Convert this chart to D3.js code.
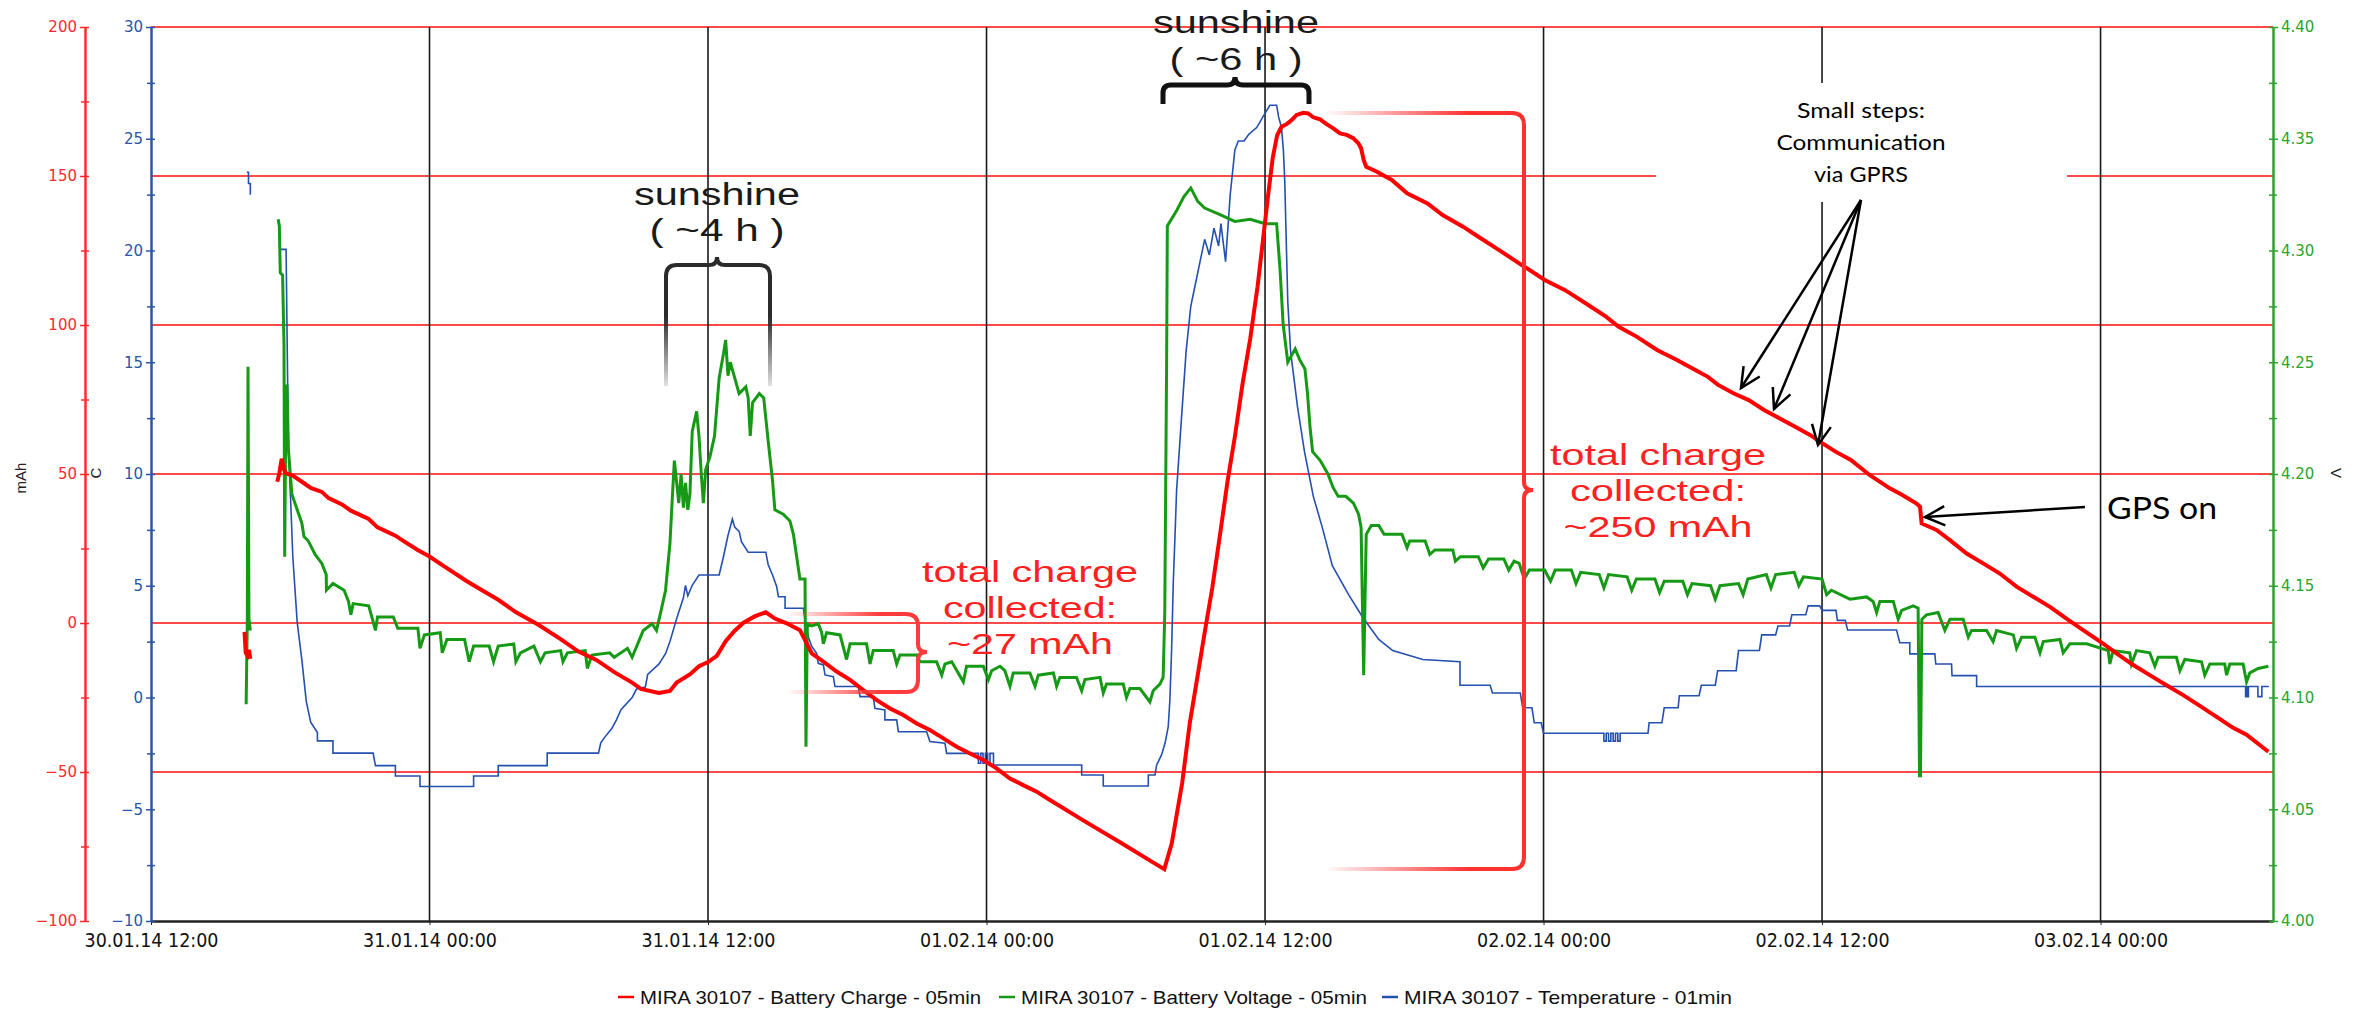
<!DOCTYPE html>
<html>
<head>
<meta charset="utf-8">
<script src="https://d3js.org/d3.v7.min.js"></script>
<style>
  body { margin: 0; background: #fff; }
  text { font-family: "Liberation Sans", Arial, sans-serif; }
  .narrow { font-family: "Liberation Sans Narrow", "Arial Narrow", "DejaVu Sans Condensed", "Liberation Sans", sans-serif; }
  .tick-lab { font-family: "DejaVu Sans", Verdana, sans-serif; }
  .calib { font-family: Lato, "Open Sans", sans-serif; }
</style>
</head>
<body>
<script>
"use strict";

// hours after 30.01.14 12:00, value ; null = gap in the record
var chargeData = [
  [4.03,-3],[4.08,-10],[4.15,-11],[4.22,-9],[4.28,-12], null,
  [5.44,47.4],[5.53,50.2],[5.63,55.1],[5.73,51.6],[5.82,50.2],[6.11,49.5],[6.50,47.4],[6.88,45.3],
  [7.36,44.0],[7.65,41.9],[8.23,39.8],[8.61,37.7],[9.38,34.9],[9.76,32.1],[10.53,29.3],[10.92,27.3],
  [11.49,24.5],[11.98,22.4],[12.65,18.9],[13.61,14.0],[14.19,11.3],[14.96,7.8],[15.73,3.6],[16.69,-0.6],
  [17.65,-5.4],[18.42,-9.6],[19.19,-12.4],[19.96,-16.5],[20.73,-20.0],[21.11,-22.1],[21.88,-23.5],
  [22.36,-22.8],[22.65,-20.0],[23.23,-17.2],[23.61,-14.5],[24.0,-13.1],[24.38,-11.0],[24.76,-6.1],
  [25.15,-2.6],[25.53,0.1],[26.01,2.2],[26.49,3.6],[26.88,1.5],[27.39,-0.1],[27.96,-2.4],[28.25,-6.8],
  [28.47,-10.2],[28.97,-13.0],[29.54,-16.3],[30.12,-19.1],[30.69,-22.5],[31.27,-25.9],[31.84,-28.7],
  [32.41,-30.9],[32.99,-33.7],[33.56,-35.9],[34.14,-38.7],[34.71,-41.5],[35.29,-43.8],[35.86,-46.0],
  [36.43,-48.8],[37.01,-52.2],[37.58,-54.4],[38.16,-56.6],[38.73,-59.4],[40.2,-66.4],[41.84,-74],
  [43.1,-80],[43.66,-82.6],[43.98,-74],[44.43,-53.7],[44.76,-33.5],[45.08,-18.4],[45.4,-3.2],
  [45.73,11.9],[46.06,29.6],[46.38,47.3],[46.7,62.5],[47.03,80.2],[47.36,95.3],[47.68,113],
  [47.87,125.7],[48.13,143.4],[48.33,156],[48.52,163.6],[48.71,166.5],[48.93,167.4],[49.15,168.8],
  [49.36,170.5],[49.65,171.2],[49.86,171.0],[50.08,169.7],[50.37,169.0],[50.65,167.4],[50.94,166.0],
  [51.23,164.3],[51.52,163.8],[51.80,162.7],[52.02,161.0],[52.14,159.3],[52.25,155.4],[52.36,153.1],
  [52.80,151.5],[53.46,148.7],[54.12,144.2],[55.0,140.8],[55.65,136.9],[56.53,133.0],[57.19,129.6],
  [58.07,125.2],[58.95,120.7],[60.05,115.1],[60.93,111.7],[61.81,107.3],[62.69,102.8],[63.24,99.4],
  [64.01,96.1],[64.89,91.6],[65.77,88.2],[66.42,85.4],[67.08,82.6],[67.52,79.9],[68.18,77.1],
  [68.84,74.8],[69.50,71.5],[70.16,68.7],[70.82,65.9],[71.48,63.1],[71.92,60.8],[72.58,57.5],
  [73.24,54.7],[74.06,49.6],[74.92,45.2],[75.44,43.0],[76.07,40.1],[76.22,39.0],[76.29,33.4],
  [76.93,31.2],[77.51,27.8],[78.23,23.3],[78.94,20.0],[79.66,16.6],[80.38,12.2],[81.10,8.8],
  [81.82,5.4],[82.53,1.5],[83.25,-2.4],[84.11,-6.9],[84.69,-10.2],[85.41,-14.1],[86.12,-17.5],
  [86.84,-20.9],[87.56,-24.2],[88.28,-27.8],[89.0,-31.5],[89.71,-35.2],[90.29,-37.5],[91.23,-43.2]
];

var voltageData = [
  [4.10,4.097],[4.15,4.135],[4.18,4.248],[4.22,4.135],[4.28,4.13], null,
  [5.48,4.314],[5.53,4.311],[5.57,4.290],[5.67,4.289],[5.73,4.258],[5.76,4.163],[5.80,4.215],[5.86,4.24],
  [5.92,4.211],[6.07,4.191],[6.30,4.184],[6.50,4.178],[6.59,4.172],[6.78,4.170],[7.07,4.164],[7.36,4.160],
  [7.55,4.155],[7.56,4.148],[7.84,4.151],[8.32,4.148],[8.51,4.143],[8.61,4.137],[8.71,4.142],[9.38,4.141],
  [9.57,4.134],[9.67,4.130],[9.76,4.136],[10.44,4.136],[10.63,4.131],[11.50,4.131],[11.59,4.122],
  [11.78,4.128],[12.46,4.129],[12.55,4.120],[12.75,4.126],[13.51,4.126],[13.71,4.116],[13.90,4.123],
  [14.57,4.123],[14.76,4.116],[14.96,4.123],[15.63,4.124],[15.72,4.116],[15.92,4.120],[16.5,4.123],
  [16.78,4.116],[16.98,4.120],[17.65,4.121],[17.75,4.116],[17.94,4.120],[18.71,4.121],[18.80,4.113],
  [19.0,4.119],[19.76,4.120],[19.96,4.118],[20.53,4.122],[20.73,4.118],[21.01,4.125],[21.21,4.130],
  [21.59,4.133],[21.78,4.130],[21.98,4.139],[22.17,4.148],[22.36,4.169],[22.46,4.189],[22.55,4.206],
  [22.65,4.196],[22.74,4.187],[22.84,4.200],[22.94,4.185],[23.03,4.196],[23.13,4.184],[23.22,4.191],
  [23.32,4.219],[23.51,4.228],[23.61,4.217],[23.71,4.200],[23.80,4.187],[23.90,4.202],[24.09,4.208],
  [24.28,4.217],[24.48,4.243],[24.67,4.254],[24.76,4.260],[24.86,4.244],[24.96,4.250],[25.15,4.243],
  [25.34,4.236],[25.63,4.239],[25.73,4.234],[25.82,4.217],[25.92,4.232],[26.21,4.236],[26.40,4.234],
  [26.59,4.215],[26.78,4.197],[26.88,4.184],[27.24,4.182],[27.53,4.179],[27.68,4.173],[27.82,4.163],
  [27.96,4.153],[28.18,4.153],[28.22,4.078],[28.28,4.133],[28.47,4.132],[28.75,4.133],[28.90,4.129],
  [28.97,4.124],[29.11,4.129],[29.69,4.128],[29.97,4.117],[30.12,4.124],[30.83,4.124],[30.98,4.115],
  [31.12,4.121],[31.98,4.121],[32.13,4.115],[32.27,4.119],[32.99,4.119],[33.13,4.116],[33.85,4.116],
  [34.07,4.110],[34.21,4.115],[34.50,4.116],[35.0,4.107],[35.14,4.114],[35.86,4.114],[36.08,4.108],
  [36.22,4.112],[36.58,4.114],[36.79,4.112],[37.01,4.105],[37.15,4.111],[37.87,4.111],[38.09,4.105],
  [38.23,4.110],[38.88,4.111],[39.02,4.105],[39.16,4.109],[39.88,4.109],[40.10,4.103],[40.24,4.108],
  [40.89,4.109],[41.03,4.102],[41.17,4.106],[41.89,4.106],[42.03,4.100],[42.18,4.104],[42.61,4.104],
  [43.04,4.098],[43.18,4.103],[43.47,4.106],[43.61,4.109],[43.68,4.138],[43.76,4.25],[43.79,4.311],
  [44.2,4.318],[44.5,4.324],[44.8,4.328],[45.1,4.322],[45.4,4.319],[46.06,4.316],[46.7,4.313],
  [47.36,4.314],[48.0,4.312],[48.5,4.312],[48.65,4.291],[48.78,4.267],[48.98,4.250],[49.3,4.256],
  [49.5,4.251],[49.72,4.247],[49.83,4.236],[49.94,4.221],[50.05,4.210],[50.38,4.206],[50.71,4.200],
  [50.93,4.194],[51.15,4.190],[51.48,4.190],[51.81,4.187],[52.03,4.182],[52.14,4.176],[52.25,4.110],
  [52.36,4.173],[52.58,4.177],[52.90,4.177],[53.13,4.173],[53.90,4.173],[54.12,4.167],[54.23,4.170],
  [54.9,4.170],[55.10,4.164],[55.32,4.166],[56.09,4.166],[56.2,4.161],[56.42,4.163],[57.19,4.163],
  [57.4,4.158],[57.63,4.162],[58.29,4.162],[58.5,4.157],[58.73,4.161],[58.95,4.160],[59.17,4.153],
  [59.39,4.157],[60.05,4.157],[60.3,4.152],[60.5,4.157],[61.2,4.157],[61.4,4.151],[61.6,4.156],
  [62.4,4.155],[62.6,4.149],[62.8,4.155],[63.6,4.154],[63.8,4.148],[64.0,4.153],[64.8,4.153],
  [65.0,4.147],[65.2,4.152],[66.0,4.152],[66.2,4.146],[66.4,4.151],[67.2,4.150],[67.4,4.144],
  [67.6,4.150],[68.4,4.151],[68.6,4.146],[68.8,4.153],[69.6,4.155],[69.8,4.149],[70.0,4.155],
  [70.8,4.156],[71.0,4.150],[71.2,4.154],[72.0,4.153],[72.2,4.146],[72.4,4.148],[73.2,4.144],
  [73.92,4.145],[74.2,4.143],[74.35,4.138],[74.49,4.143],[75.07,4.143],[75.28,4.135],[75.43,4.139],
  [75.93,4.141],[76.14,4.140],[76.2,4.065],[76.24,4.065],[76.3,4.135],[76.50,4.137],[77.0,4.138],
  [77.29,4.130],[77.51,4.135],[78.08,4.135],[78.30,4.127],[78.44,4.130],[79.09,4.130],[79.37,4.125],
  [79.52,4.130],[80.24,4.128],[80.38,4.122],[80.60,4.127],[81.17,4.127],[81.39,4.120],[81.53,4.125],
  [82.25,4.126],[82.39,4.120],[82.68,4.124],[83.40,4.124],[84.33,4.121],[84.40,4.115],[84.54,4.121],
  [85.26,4.120],[85.33,4.115],[85.55,4.121],[86.12,4.120],[86.34,4.114],[86.48,4.118],[87.27,4.118],
  [87.42,4.112],[87.63,4.117],[88.35,4.116],[88.49,4.110],[88.71,4.115],[89.35,4.115],[89.43,4.110],
  [89.57,4.115],[90.14,4.115],[90.29,4.107],[90.43,4.111],[90.79,4.113],[91.23,4.114]
];

var temperatureData = [
  [4.13,23.5],[4.2,23.5],[4.2,23.0],[4.28,23.0],[4.28,22.5], null,
  [5.53,20.05],[5.82,20.05],[5.92,11.2],[6.01,9.0],[6.11,6.3],[6.30,3.35],[6.50,1.68],[6.69,-0.17],
  [6.88,-1.10],[7.17,-1.57],[7.17,-1.94],[7.84,-1.94],[7.84,-2.49],[9.57,-2.49],[9.67,-3.05],
  [10.53,-3.05],[10.53,-3.51],[11.59,-3.51],[11.59,-3.98],[13.90,-3.98],[13.90,-3.51],[14.96,-3.51],
  [14.96,-3.05],[17.07,-3.05],[17.07,-2.49],[19.28,-2.49],[19.38,-2.03],[19.57,-1.75],[19.86,-1.38],
  [20.05,-1.01],[20.25,-0.55],[20.73,0.0],[20.92,0.38],[21.30,0.47],[21.40,1.03],[21.88,1.49],
  [22.17,1.96],[22.36,2.51],[22.65,3.53],[22.94,4.46],[23.03,5.02],[23.13,4.55],[23.32,5.02],
  [23.61,5.48],[24.48,5.48],[24.67,6.32],[24.86,7.25],[25.05,7.99],[25.15,7.62],[25.34,7.43],
  [25.44,6.97],[25.73,6.50],[26.49,6.50],[26.59,5.95],[26.78,5.48],[26.96,4.96],[27.03,4.51],
  [27.32,4.51],[27.32,3.99],[28.11,3.99],[28.18,3.47],[28.32,2.72],[28.47,2.28],[28.68,1.98],
  [28.75,1.53],[28.97,1.46],[29.04,1.01],[29.40,0.93],[29.47,0.49],[30.48,0.49],[30.55,0.04],
  [31.12,0.04],[31.19,-0.48],[31.62,-0.56],[31.62,-1.0],[32.13,-1.0],[32.20,-1.53],[33.42,-1.53],
  [33.56,-1.97],[34.21,-2.05],[34.28,-2.50],[35.65,-2.50],[35.65,-2.94],[35.75,-2.94],[35.75,-2.5],
  [35.85,-2.5],[35.85,-2.94],[35.95,-2.94],[35.95,-2.5],[36.05,-2.5],[36.05,-2.94],[36.15,-2.94],
  [36.15,-2.5],[36.3,-2.5],[36.3,-3.02],[40.10,-3.02],[40.10,-3.47],[41.03,-3.47],
  [41.03,-3.96],[42.97,-3.96],[42.97,-3.47],[43.26,-3.47],[43.33,-3.02],[43.54,-2.57],[43.69,-2.05],
  [43.83,-1.30],[43.90,-0.11],[43.97,1.98],[44.05,5.26],[44.12,7.20],[44.19,9.28],[44.4,12.5],
  [44.6,15.5],[44.8,17.5],[45.0,18.5],[45.2,19.5],[45.4,20.5],[45.6,19.8],[45.8,21.0],[46.0,20.2],
  [46.1,21.2],[46.3,19.5],[46.5,22.5],[46.7,24.5],[46.85,24.9],[47.1,24.9],[47.3,25.2],[47.64,25.5],
  [47.92,26.0],[48.21,26.5],[48.5,26.5],[48.58,26.0],[48.71,25.5],[48.79,24.5],[48.85,23.1],
  [48.98,17.7],[49.1,15.5],[49.4,13.0],[49.7,11.0],[50.08,9.0],[50.47,7.6],[50.9,5.9],[51.6,4.6],
  [52.2,3.6],[52.9,2.6],[53.5,2.1],[54.8,1.7],[56.4,1.6],[56.4,0.55],[57.7,0.55],[57.8,0.2],
  [59.0,0.2],[59.1,-0.46],[59.5,-0.46],[59.6,-1.13],[59.9,-1.13],[60.0,-1.6],[62.6,-1.6],
  [62.6,-1.95],[62.7,-1.95],[62.7,-1.6],[62.8,-1.6],[62.8,-1.95],[62.9,-1.95],[62.9,-1.6],
  [63.0,-1.6],[63.0,-1.95],[63.1,-1.95],[63.1,-1.6],[63.2,-1.6],[63.2,-1.95],[63.3,-1.95],[63.3,-1.6],
  [64.5,-1.6],[64.55,-1.13],[65.1,-1.13],[65.2,-0.46],[65.8,-0.46],[65.85,0.08],[66.7,0.08],
  [66.8,0.55],[67.4,0.55],[67.5,1.2],[68.3,1.2],[68.4,2.1],[69.3,2.1],[69.4,2.8],[70.0,2.8],
  [70.1,3.2],[70.6,3.2],[70.7,3.7],[71.3,3.7],[71.4,4.1],[71.9,4.1],[72.0,3.9],[72.6,3.9],
  [72.66,3.45],[73.0,3.45],[73.1,3.02],[75.21,3.02],[75.35,2.45],[75.78,2.45],[75.78,1.95],
  [76.86,1.95],[76.9,1.50],[77.58,1.50],[77.6,0.98],[78.66,0.98],[78.66,0.49],[90.25,0.49],
  [90.25,0.04],[90.3,0.04],[90.3,0.49],[90.33,0.49],[90.33,0.04],[90.37,0.04],[90.37,0.49],
  [90.78,0.49],[90.78,0.04],[90.95,0.04],[90.95,0.49],[91.25,0.49]
];

var chargeTicks = [-100, -50, 0, 50, 100, 150, 200];
var tempTicks = [-10, -5, 0, 5, 10, 15, 20, 25, 30];
var voltTicks = [4.00, 4.05, 4.10, 4.15, 4.20, 4.25, 4.30, 4.35, 4.40];
var legendLabels = ["MIRA 30107 - Battery Charge - 05min",
                    "MIRA 30107 - Battery Voltage - 05min",
                    "MIRA 30107 - Temperature - 01min"];

var RED = "#ff0000", GREEN = "#169a16", BLUE = "#2450ae";

var W = 2361, H = 1016;
var xLeft = 151, xRight = 2273, yTop = 27, yBot = 921;

var t0 = new Date(2014, 0, 30, 12, 0);
function hrs(h) { return new Date(t0.getTime() + h * 3600e3); }

var x = d3.scaleTime().domain([t0, hrs(91.43)]).range([xLeft, xRight]);
var yC = d3.scaleLinear().domain([-100, 200]).range([yBot, yTop]);
var yT = d3.scaleLinear().domain([-10, 30]).range([yBot, yTop]);
var yV = d3.scaleLinear().domain([4.0, 4.4]).range([yBot, yTop]);

var svg = d3.select("body").append("svg")
  .attr("width", W).attr("height", H);

var defs = svg.append("defs");
function grad(id, x1, y1, x2, y2, color, stops) {
  var g = defs.append("linearGradient").attr("id", id)
    .attr("gradientUnits", "userSpaceOnUse")
    .attr("x1", x1).attr("y1", y1).attr("x2", x2).attr("y2", y2);
  stops.forEach(function(s) {
    g.append("stop").attr("offset", s[0]).attr("stop-color", color).attr("stop-opacity", s[1]);
  });
}
grad("fade27", 787, 0, 880, 0, "#ff3b3b", [[0, 0], [1, 1]]);
grad("fade250", 1325, 0, 1470, 0, "#ff3030", [[0, 0], [1, 1]]);
grad("fade4h", 0, 258, 0, 388, "#2b2b2b", [[0, 1], [0.45, 1], [1, 0.12]]);

// horizontal red grid (charge axis)
svg.append("g").selectAll("line").data(chargeTicks.filter(function(d) { return d > -100; }))
  .join("line")
  .attr("x1", xLeft).attr("x2", xRight)
  .attr("y1", function(d) { return yC(d); }).attr("y2", function(d) { return yC(d); })
  .attr("stroke", "#ff4a4a").attr("stroke-width", 2);

// vertical grid every 12h
var xTicks = d3.timeHour.every(12).range(t0, hrs(91.43));
svg.append("g").selectAll("line").data(xTicks.slice(1))
  .join("line")
  .attr("x1", function(d) { return x(d); }).attr("x2", function(d) { return x(d); })
  .attr("y1", yTop).attr("y2", yBot)
  .attr("stroke", "#1a1a1a").attr("stroke-width", 1.6);

// bottom axis
var xAxis = svg.append("g").attr("transform", "translate(0," + yBot + ")")
  .call(d3.axisBottom(x).tickValues(xTicks).tickSize(4).tickSizeOuter(0)
    .tickFormat(d3.timeFormat("%d.%m.%y %H:%M")));
xAxis.select(".domain").attr("stroke", "#222").attr("stroke-width", 2.5);
xAxis.selectAll("line").attr("stroke", "#222");
xAxis.selectAll("text").attr("class", "narrow").attr("font-size", 19).attr("fill", "#111")
  .attr("dy", "1.0em").attr("textLength", 134).attr("lengthAdjust", "spacingAndGlyphs");

// y axes with minor ticks crossing the axis line
function yAxis(scale, ticks, xpos, color, side, fmt) {
  var g = svg.append("g").attr("transform", "translate(" + xpos + ",0)");
  var minor = [];
  for (var i = 0; i < ticks.length - 1; i++) minor.push((ticks[i] + ticks[i + 1]) / 2);
  var ax = side === "left" ? d3.axisLeft(scale) : d3.axisRight(scale);
  g.call(ax.tickValues(ticks).tickSize(5).tickSizeOuter(0).tickFormat(fmt));
  g.append("g").call((side === "left" ? d3.axisRight(scale) : d3.axisLeft(scale))
    .tickValues(ticks.concat(minor)).tickSize(4).tickFormat(""))
    .select(".domain").remove();
  g.append("g").call(ax.tickValues(minor).tickSize(4).tickFormat(""))
    .select(".domain").remove();
  g.selectAll(".domain").attr("stroke", color).attr("stroke-width", 2.5);
  g.selectAll("line").attr("stroke", color).attr("stroke-width", 1.5);
  g.selectAll("text").attr("class", "tick-lab").attr("fill", color).attr("font-size", 15);
  return g;
}
yAxis(yC, chargeTicks, 85, "#ff2b2b", "left", d3.format("d"));
yAxis(yT, tempTicks, xLeft, "#2a55a8", "left", d3.format("d"));
yAxis(yV, voltTicks, xRight, "#2aa52a", "right", d3.format(".2f"));

// axis unit labels
svg.append("text").attr("transform", "translate(26,478) rotate(-90)")
  .attr("text-anchor", "middle").attr("font-size", 15).attr("fill", "#222").text("mAh");
svg.append("text").attr("transform", "translate(101,473) rotate(-90)")
  .attr("text-anchor", "middle").attr("font-size", 15).attr("fill", "#222").text("C");
svg.append("text").attr("transform", "translate(2331,473) rotate(90)")
  .attr("text-anchor", "middle").attr("font-size", 15).attr("fill", "#222").text("V");

// series
function seriesLine(scale) {
  return d3.line().defined(function(d) { return d !== null; })
    .x(function(d) { return x(hrs(d[0])); })
    .y(function(d) { return scale(d[1]); });
}
svg.append("path").datum(temperatureData).attr("d", seriesLine(yT))
  .attr("fill", "none").attr("stroke", BLUE).attr("stroke-width", 1.6);
svg.append("path").datum(voltageData).attr("d", seriesLine(yV))
  .attr("fill", "none").attr("stroke", GREEN).attr("stroke-width", 3);
svg.append("path").datum(chargeData).attr("d", seriesLine(yC))
  .attr("fill", "none").attr("stroke", RED).attr("stroke-width", 4);

// ---- annotations ----
var ann = svg.append("g");

function label(lines, cx, y0, dy, size, color, widths, cls) {
  lines.forEach(function(s, i) {
    ann.append("text").attr("class", cls || null)
      .attr("x", cx).attr("y", y0 + i * dy).attr("text-anchor", "middle")
      .attr("font-size", size).attr("fill", color)
      .attr("textLength", widths[i]).attr("lengthAdjust", "spacingAndGlyphs")
      .text(s);
  });
}

// sunshine ~4h
label(["sunshine", "( ~4 h )"], 717, 205, 36, 31, "#1a1a1a", [166, 135]);
ann.append("path")
  .attr("d", "M666,386 L666,276 Q666,265 677,265 L709,265 Q717,265 717,257 Q717,265 725,265 L759,265 Q770,265 770,276 L770,386")
  .attr("fill", "none").attr("stroke", "url(#fade4h)").attr("stroke-width", 4);

// sunshine ~6h
label(["sunshine", "( ~6 h )"], 1236, 33, 37, 31, "#1a1a1a", [166, 133]);
ann.append("path")
  .attr("d", "M1163,104 L1163,93 Q1163,85 1171,85 L1227,85 Q1235,85 1235,77 Q1235,85 1243,85 L1301,85 Q1309,85 1309,93 L1309,104")
  .attr("fill", "none").attr("stroke", "#111").attr("stroke-width", 5);

// ~27 mAh bracket
ann.append("path")
  .attr("d", "M787,614 L906,614 Q918,614 918,626 L918,644 Q918,652 927,652 Q918,652 918,660 L918,680 Q918,692 906,692 L787,692")
  .attr("fill", "none").attr("stroke", "url(#fade27)").attr("stroke-width", 4);
label(["total charge", "collected:", "~27 mAh"], 1030, 582, 36, 30, "#ff2020", [216, 174, 166]);

// ~250 mAh bracket
ann.append("path")
  .attr("d", "M1325,113 L1512,113 Q1524,113 1524,125 L1524,482 Q1524,490 1533,490 Q1524,490 1524,498 L1524,857 Q1524,869 1512,869 L1325,869")
  .attr("fill", "none").attr("stroke", "url(#fade250)").attr("stroke-width", 4);
label(["total charge", "collected:", "~250 mAh"], 1658, 465, 36, 30, "#ff2020", [216, 176, 189]);

// small steps box
ann.append("rect").attr("x", 1656).attr("y", 83).attr("width", 411).attr("height", 119).attr("fill", "#fff");
label(["Small steps:", "Communication", "via GPRS"], 1861, 118, 32, 22, "#000", [128, 169, 94], "calib");

function arrow(x1, y1, x2, y2) {
  var a = Math.atan2(y2 - y1, x2 - x1), L = 22, s = 0.45;
  ann.append("line").attr("x1", x1).attr("y1", y1).attr("x2", x2).attr("y2", y2)
    .attr("stroke", "#000").attr("stroke-width", 2.5);
  ann.append("path")
    .attr("d", "M" + (x2 - L * Math.cos(a - s)) + "," + (y2 - L * Math.sin(a - s)) +
      " L" + x2 + "," + y2 + " L" + (x2 - L * Math.cos(a + s)) + "," + (y2 - L * Math.sin(a + s)))
    .attr("fill", "none").attr("stroke", "#000").attr("stroke-width", 2.5);
}
arrow(1861, 200, 1741, 388);
arrow(1861, 200, 1774, 409);
arrow(1861, 200, 1818, 445);

// GPS on
arrow(2085, 507, 1925, 517);
ann.append("text").attr("class", "calib").attr("x", 2107).attr("y", 519)
  .attr("font-size", 31).attr("fill", "#000")
  .attr("textLength", 110).attr("lengthAdjust", "spacingAndGlyphs").text("GPS on");

// legend
var legendX = [618, 999, 1382], legendW = [341, 346, 328];
var lg = svg.append("g").attr("class", "narrow");
[RED, GREEN, BLUE].forEach(function(c, i) {
  lg.append("line").attr("x1", legendX[i]).attr("x2", legendX[i] + 16).attr("y1", 997).attr("y2", 997)
    .attr("stroke", c).attr("stroke-width", 2.5);
  lg.append("text").attr("x", legendX[i] + 22).attr("y", 1004).attr("font-size", 19)
    .attr("fill", "#111").attr("textLength", legendW[i]).attr("lengthAdjust", "spacingAndGlyphs")
    .text(legendLabels[i]);
});
</script>
</body>
</html>
